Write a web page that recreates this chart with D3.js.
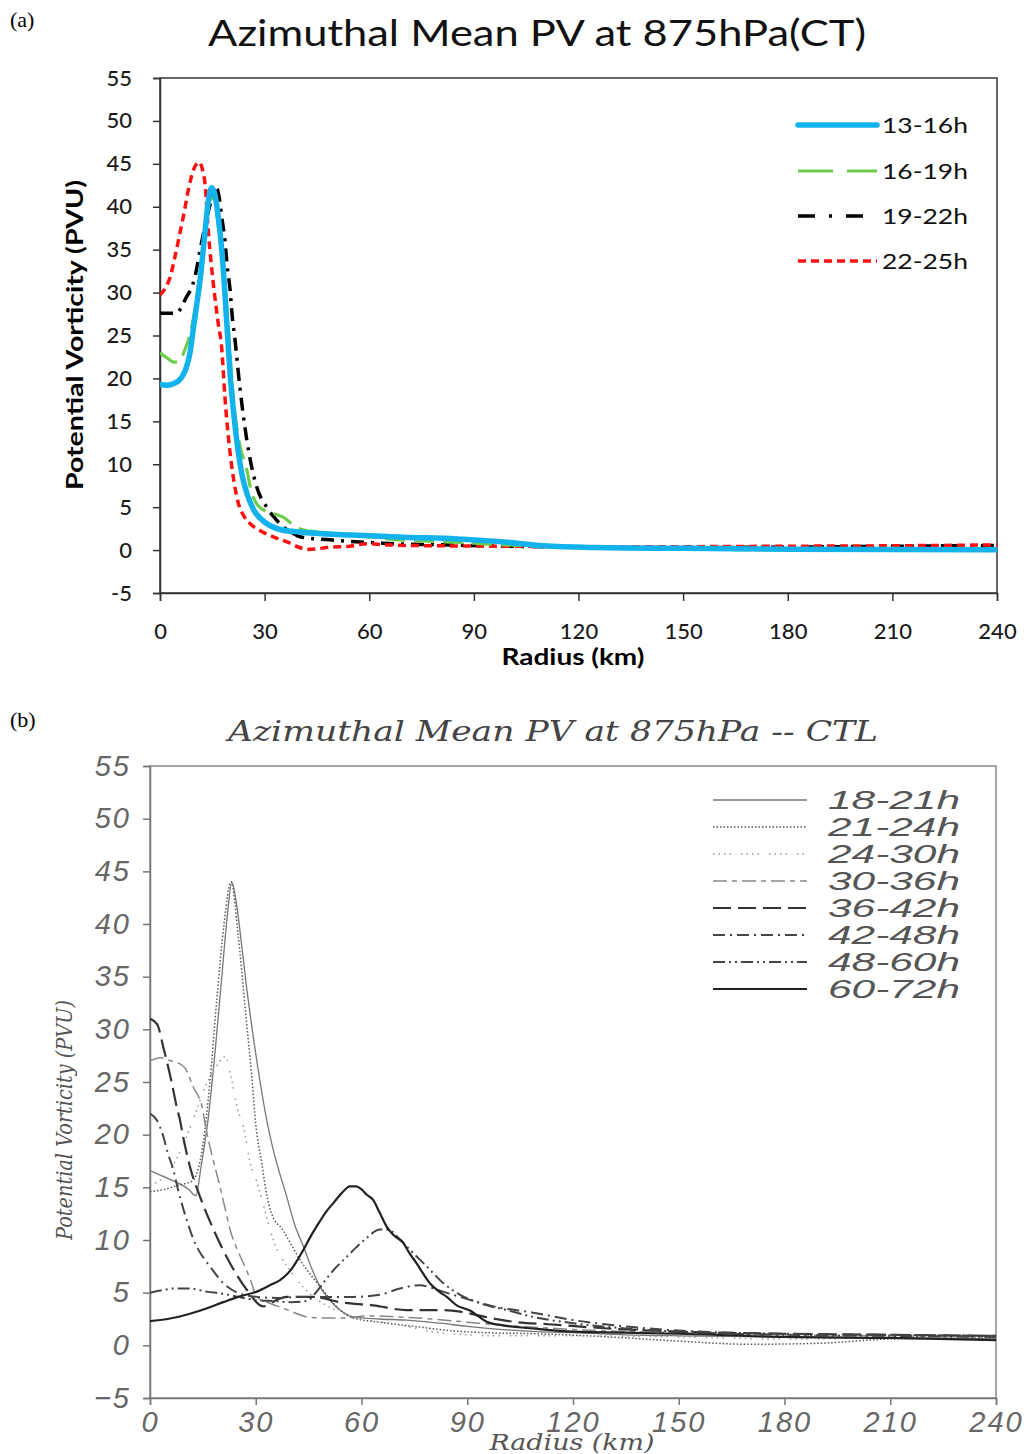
<!DOCTYPE html>
<html><head><meta charset="utf-8">
<script src="https://cdn.jsdelivr.net/npm/d3@7"></script>
<style>body{margin:0;background:#fff}svg{display:block}</style>
</head><body>
<script>
// ---------- Panel (a) data ----------
const yTicksA = [-5,0,5,10,15,20,25,30,35,40,45,50,55];
const xTicks = [0,30,60,90,120,150,180,210,240];
const seriesNamesA = ["13-16h","16-19h","19-22h","22-25h"];
const pv13_16 = [[0,19.3],[2,19.2],[4,19.4],[6,20],[7.5,21.2],[8.6,23],[9.5,25.6],[10.5,28.5],[11.5,31.5],[12.9,37],[13.9,40.8],[14.8,42.2],[15.8,41.3],[16.8,38.5],[17.7,35],[18.6,30],[19.3,25.5],[20.2,20],[21,16.5],[22,12.8],[23.4,9],[25,6.5],[27,4.6],[29.6,3.4],[34.4,2.4],[40,2.1],[55,1.75],[70,1.5],[85,1.3],[97,1.0],[110,0.5],[125,0.3],[150,0.2],[180,0.1],[240,0.05]];
const pv16_19 = [[0,23],[2,22.4],[4,21.9],[5.5,22],[7,23.2],[8.5,25],[10,28],[11.5,32.5],[13,37.5],[14.3,40.8],[15.3,41],[16.5,38.5],[17.8,34],[18.8,30],[19.6,26],[20.4,21],[21.2,17],[22.5,13],[24.9,9.3],[26.2,6.8],[27.7,5.4],[30,4.6],[33,4.2],[35.4,3.8],[38,3],[40,2.5],[45,2.1],[54.5,1.75],[68.8,1.2],[80,1.0],[90,0.8],[105,0.5],[120,0.3],[150,0.1],[180,0.05],[240,0.1]];
const pv19_22 = [[0,27.6],[2,27.6],[4.8,27.6],[6,28.2],[7.6,29.5],[9,30.5],[10,31.8],[11.5,35],[12.9,37.7],[14.5,40.5],[15.5,41.8],[16.3,42.1],[17,41],[17.7,38.8],[18.6,36.1],[19.3,33],[20.1,30.3],[20.7,27.3],[21.5,24.5],[22.9,19],[24.9,12.8],[27.7,7.4],[30.6,5.0],[33,3.7],[35.4,2.7],[38,2.0],[40.1,1.55],[48.7,1.2],[64,0.8],[83,0.6],[100,0.45],[120,0.35],[150,0.3],[180,0.35],[210,0.45],[240,0.55]];
const pv22_25 = [[0,29.7],[1.5,30.5],[2.9,31.8],[4.3,34.2],[5.7,36.9],[7,39.5],[8.1,41.9],[9.6,44.3],[11.2,45.2],[12.2,44.3],[12.9,42.7],[13.9,36.9],[15.3,31],[16.7,26.4],[17.7,23.5],[18.6,17.9],[20.1,11.3],[21.2,8],[22.5,5.4],[24,4],[25.8,3.1],[29,2.2],[32.5,1.55],[37.3,0.8],[40,0.3],[42,0.08],[45,0.15],[47.8,0.3],[54.5,0.45],[59.3,0.75],[65,0.6],[80,0.5],[100,0.45],[120,0.4],[150,0.4],[180,0.45],[210,0.5],[240,0.6]];

// ---------- Panel (b) data ----------
const yTicksB = [-5,0,5,10,15,20,25,30,35,40,45,50,55];
const seriesNamesB = ["18-21h","21-24h","24-30h","30-36h","36-42h","42-48h","48-60h","60-72h"];
const pv18_21 = [[0,16.6],[4,16],[8,15.4],[11,14.8],[13,14.2],[14.5,17],[16.5,21.5],[18.5,28],[20.5,35.5],[22,41],[23.2,44],[24.5,42],[26,38],[27.4,34],[29,30],[31,25.5],[33.1,21.4],[35,18.5],[38.8,14.1],[41,11.5],[43.5,9.4],[46,7.2],[48.2,5.6],[51,4.3],[53.9,3.35],[57.7,2.7],[65,2.5],[72.8,2.4],[82.3,2.1],[90,1.8],[100,1.5],[110,1.3],[120,1.2],[135,1.0],[150,0.9],[180,0.8],[210,0.7],[240,0.6]];
const pv21_24 = [[0,14.6],[4,14.8],[8,15.2],[12,15.6],[15,19],[17,25],[19,33],[21,40],[23,44],[25,39],[27,32],[29,25],[30,21],[31.7,17.3],[33,14.5],[34.5,12.5],[37.8,10.9],[40,9.6],[42.6,8.1],[48.2,5.6],[53.9,3.35],[57.7,2.6],[65,2.2],[75,1.8],[85,1.4],[95,1.2],[110,1.1],[130,0.8],[150,0.4],[170,0.1],[190,0.2],[210,0.6],[240,0.7]];
const pv24_30 = [[0,15.2],[4,16],[8,18],[11.8,21],[15.6,24.5],[18.5,26.3],[21.3,27.4],[23,25.5],[24.8,22.5],[26.5,20.8],[28.3,17.5],[30.3,15.5],[32,13.5],[35,10],[40,7],[45,5],[50,3.8],[55,3],[60,2.5],[70,2],[80,1.3],[90,1.0],[100,0.9],[120,0.9],[150,0.8],[180,0.6],[210,0.7],[240,0.7]];
const pv30_36 = [[0,27],[3,27.3],[6,27],[8,26.8],[10,26.3],[12.3,24.5],[14.8,22.6],[16,20.4],[18,17.5],[19.9,15],[21.3,13],[22.7,11],[24.5,9.3],[26.5,7.8],[28.5,6.2],[30.3,4.6],[34,4.0],[38,3.5],[41,3.1],[44.4,2.7],[48,2.6],[55,2.6],[62,2.8],[70,2.7],[80,2.5],[90,2.2],[100,1.9],[110,1.7],[120,1.5],[150,1.2],[180,1.0],[210,0.9],[240,0.8]];
const pv36_42 = [[0,31],[2,30.5],[4,28],[6,25.2],[7.6,22.6],[8.5,21.4],[9.4,19.8],[11.3,17],[14.2,14.1],[18,11],[22.7,7.8],[27.4,5.3],[32.1,3.7],[35.9,4.3],[38.8,4.6],[46.3,4.6],[53.9,4.1],[63.3,3.8],[72.8,3.35],[82.3,3.35],[88,3.2],[95,2.7],[104,2.2],[113,2.0],[130,1.6],[150,1.3],[180,1.1],[210,1.0],[240,0.9]];
const pv42_48 = [[0,22],[1.9,21.4],[3.8,19.8],[5,18.3],[6.6,16.7],[8,14.7],[9.5,12.9],[11.3,11],[13.2,9.4],[15,8.4],[17,7.5],[20.8,5.9],[25.5,4.9],[30.3,4.6],[36,4.5],[42.5,4.6],[50,4.6],[57.7,4.6],[65.2,4.8],[70.9,5.4],[76.6,5.7],[80.4,5.4],[84,5],[88,4.6],[97.4,3.7],[108.7,3.1],[120,2.4],[135,1.8],[150,1.4],[180,1.1],[210,1.0],[240,0.9]];
const pv48_60 = [[0,5],[3,5.2],[7,5.4],[11.3,5.4],[16,5.1],[20.8,4.9],[25,4.6],[30,4.3],[35,4.2],[40,4.1],[44.4,4.2],[48.2,5.5],[50,6.3],[52.5,7.3],[55.8,8.4],[58.5,9.3],[61.5,10.2],[65.2,11],[67.5,11],[70.5,10.2],[73.8,9.05],[78.5,7.5],[83.2,5.9],[88,4.8],[93.6,4.0],[101.2,3.35],[108.7,2.7],[120,2.1],[135,1.6],[150,1.3],[180,1.0],[210,0.9],[240,0.8]];
const pv60_72 = [[0,2.3],[5,2.5],[11.3,3.0],[16,3.5],[20.8,4.1],[25,4.6],[30.3,5.1],[34,5.7],[36.9,6.2],[39,6.8],[40.7,7.5],[42,8.2],[43.5,9.05],[45.5,10.3],[47.3,11.3],[50,12.7],[52,13.5],[54.5,14.5],[56.7,15.1],[58.5,15.1],[60,14.8],[61.5,14.3],[63.3,13.8],[65,12.7],[67.1,11.3],[69,10.5],[71.9,9.7],[73.5,8.8],[75.6,7.8],[77.5,6.8],[79.4,5.9],[82,5.1],[84.2,4.6],[87,3.8],[90.8,3.3],[93,2.8],[95.5,2.25],[100,1.9],[108.7,1.6],[120,1.3],[135,1.2],[150,1.1],[180,0.8],[210,0.7],[240,0.5]];

const W = 1024, H = 1454;
const svg = d3.select("body").append("svg").attr("width", W).attr("height", H);

// ================= Panel (a) =================
const xA = d3.scaleLinear().domain([0,240]).range([160,997]);
const yA = d3.scaleLinear().domain([-5,55]).range([593,78]);
const fontA = "Lato, 'Open Sans', sans-serif";

svg.append("text").attr("x",10).attr("y",27).attr("font-family","'Liberation Serif', serif").attr("font-size",22).text("(a)");
svg.append("text").attr("x",208).attr("y",46).attr("font-family",fontA).attr("font-size",36)
  .attr("textLength",658).attr("lengthAdjust","spacingAndGlyphs").attr("fill","#111").text("Azimuthal Mean PV at 875hPa(CT)");

const gA = svg.append("g");
gA.append("rect").attr("x",xA(0)).attr("y",yA(55)).attr("width",xA(240)-xA(0)).attr("height",yA(-5)-yA(55))
  .attr("fill","none").attr("stroke","#333").attr("stroke-width",1.5);
const axYA = gA.append("g").attr("transform",`translate(${xA(0)},0)`)
  .call(d3.axisLeft(yA).tickValues(yTicksA).tickSize(7).tickPadding(21).tickFormat(d=>String(d)));
const axXA = gA.append("g").attr("transform",`translate(0,${yA(-5)})`)
  .call(d3.axisBottom(xA).tickValues(xTicks).tickSize(8).tickPadding(22).tickFormat(d=>String(d)));
[axYA, axXA].forEach(ax=>{
  ax.select(".domain").attr("stroke","#333").attr("stroke-width",1.5);
  ax.selectAll(".tick line").attr("stroke","#333").attr("stroke-width",1.5);
  ax.selectAll("text").attr("font-family",fontA).attr("font-size",22).attr("fill","#1a1a1a").attr("font-weight",500);
});
gA.append("text").attr("transform","translate(83,335) rotate(-90)").attr("text-anchor","middle")
  .attr("font-family",fontA).attr("font-weight","bold").attr("font-size",22)
  .attr("textLength",310).attr("lengthAdjust","spacingAndGlyphs").text("Potential Vorticity (PVU)");
gA.append("text").attr("x",573).attr("y",665).attr("text-anchor","middle")
  .attr("font-family",fontA).attr("font-weight","bold").attr("font-size",22)
  .attr("textLength",143).attr("lengthAdjust","spacingAndGlyphs").text("Radius (km)");

svg.append("clipPath").attr("id","clipA").append("rect")
  .attr("x",xA(0)).attr("y",yA(55)).attr("width",xA(240)-xA(0)).attr("height",yA(-5)-yA(55));

const stylesA = [
  {data:pv13_16, color:"#12b2ec", w:5.5, dash:null},
  {data:pv16_19, color:"#6ccd4a", w:3.2, dash:"20 9"},
  {data:pv19_22, color:"#000", w:3.5, dash:"13 7 3 7"},
  {data:pv22_25, color:"#ff1010", w:3.5, dash:"8 5"}
];
const lineA = d3.line().x(d=>xA(d[0])).y(d=>yA(d[1])).curve(d3.curveMonotoneX);
const plotA = gA.append("g").attr("clip-path","url(#clipA)");
[stylesA[2], stylesA[3], stylesA[1], stylesA[0]].forEach(s=>{
  plotA.append("path").datum(s.data).attr("d",lineA).attr("fill","none")
    .attr("stroke",s.color).attr("stroke-width",s.w).attr("stroke-dasharray",s.dash)
    .attr("stroke-linecap",s.dash? "butt":"round").attr("stroke-linejoin","round");
});
const legRowsA = [125,171,216,261];
const legDashA = [null,"35 14","17 14 3 14","8 5"];
seriesNamesA.forEach((n,i)=>{
  const s = stylesA[i];
  gA.append("line").attr("x1",798).attr("x2",877).attr("y1",legRowsA[i]).attr("y2",legRowsA[i])
    .attr("stroke",s.color).attr("stroke-width",s.w).attr("stroke-dasharray",legDashA[i])
    .attr("stroke-linecap", i===0?"round":"butt");
  gA.append("text").attr("x",882).attr("y",legRowsA[i]).attr("dy","0.35em")
    .attr("font-family",fontA).attr("font-size",22).attr("fill","#111").attr("textLength",86)
    .attr("lengthAdjust","spacingAndGlyphs").text(n);
});

// ================= Panel (b) =================
const xB = d3.scaleLinear().domain([0,240]).range([150,996]);
const yB = d3.scaleLinear().domain([-5,55]).range([1398,766]);
const serifI = "'DejaVu Serif', 'Liberation Serif', serif";
const sansI = "'Liberation Sans', 'DejaVu Sans', sans-serif";

svg.append("text").attr("x",10).attr("y",727).attr("font-family","'Liberation Serif', serif").attr("font-size",22).text("(b)");
svg.append("text").attr("x",228).attr("y",741).attr("font-family",serifI).attr("font-style","italic")
  .attr("font-size",27).attr("fill","#444").attr("textLength",650).attr("lengthAdjust","spacingAndGlyphs")
  .text("Azimuthal Mean PV at 875hPa -- CTL");

const gB = svg.append("g");
gB.append("rect").attr("x",xB(0)).attr("y",yB(55)).attr("width",xB(240)-xB(0)).attr("height",yB(-5)-yB(55))
  .attr("fill","none").attr("stroke","#888").attr("stroke-width",1.5);
const axYB = gB.append("g").attr("transform",`translate(${xB(0)},0)`)
  .call(d3.axisLeft(yB).tickValues(yTicksB).tickSize(7).tickPadding(12));
const axXB = gB.append("g").attr("transform",`translate(0,${yB(-5)})`)
  .call(d3.axisBottom(xB).tickValues(xTicks).tickSize(7).tickPadding(6));
[axYB, axXB].forEach(ax=>{
  ax.select(".domain").attr("stroke","#777").attr("stroke-width",1.5);
  ax.selectAll(".tick line").attr("stroke","#777").attr("stroke-width",1.5);
  ax.selectAll("text").attr("font-family",sansI).attr("font-style","italic").attr("font-weight",300)
    .attr("font-size",29).attr("fill","#666").attr("letter-spacing",2);
});
gB.append("text").attr("transform","translate(72,1120) rotate(-90)").attr("text-anchor","middle")
  .attr("font-family",serifI).attr("font-style","italic").attr("font-size",22).attr("fill","#555")
  .attr("textLength",240).attr("lengthAdjust","spacingAndGlyphs").text("Potential Vorticity (PVU)");
gB.append("text").attr("x",572).attr("y",1450).attr("text-anchor","middle")
  .attr("font-family",serifI).attr("font-style","italic").attr("font-size",22).attr("fill","#555")
  .attr("textLength",165).attr("lengthAdjust","spacingAndGlyphs").text("Radius (km)");

svg.append("clipPath").attr("id","clipB").append("rect")
  .attr("x",xB(0)).attr("y",yB(55)).attr("width",xB(240)-xB(0)).attr("height",yB(-5)-yB(55));

const stylesB = [
  {data:pv18_21, color:"#777", w:1.3, dash:null},
  {data:pv21_24, color:"#555", w:1.5, dash:"1.5 2"},
  {data:pv24_30, color:"#999", w:1.5, dash:"1.5 4 1.5 4 1.5 4 1.5 10"},
  {data:pv30_36, color:"#888", w:1.5, dash:"14 5 5 5"},
  {data:pv36_42, color:"#333", w:2.2, dash:"18 7"},
  {data:pv42_48, color:"#444", w:2, dash:"12 5 2 5"},
  {data:pv48_60, color:"#444", w:2, dash:"12 4 2 4 2 4"},
  {data:pv60_72, color:"#222", w:2.2, dash:null}
];
const lineB = d3.line().x(d=>xB(d[0])).y(d=>yB(d[1])).curve(d3.curveMonotoneX);
const plotB = gB.append("g").attr("clip-path","url(#clipB)");
stylesB.forEach(s=>{
  plotB.append("path").datum(s.data).attr("d",lineB).attr("fill","none")
    .attr("stroke",s.color).attr("stroke-width",s.w).attr("stroke-dasharray",s.dash)
    .attr("stroke-linejoin","round");
});
const legRowsB = [800,827,854,881,908,935,962,989];
seriesNamesB.forEach((n,i)=>{
  const s = stylesB[i];
  gB.append("line").attr("x1",713).attr("x2",807).attr("y1",legRowsB[i]).attr("y2",legRowsB[i])
    .attr("stroke",s.color).attr("stroke-width",s.w).attr("stroke-dasharray",s.dash);
  gB.append("text").attr("x",828).attr("y",legRowsB[i]).attr("dy","0.36em")
    .attr("font-family",sansI).attr("font-style","italic").attr("font-weight",300)
    .attr("font-size",26).attr("fill","#555").attr("textLength",132).attr("lengthAdjust","spacingAndGlyphs").text(n);
});
</script>
</body></html>
